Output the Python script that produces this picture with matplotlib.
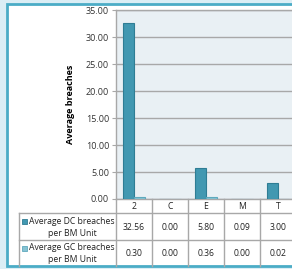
import matplotlib
matplotlib.use("Agg")
import matplotlib.pyplot as plt
import numpy as np
from matplotlib.patches import Rectangle
from matplotlib.transforms import blended_transform_factory

# ---------------- DATA ----------------
categories = ["2", "C", "E", "M", "T"]
dc_breaches = [32.56, 0.00, 5.80, 0.09, 3.00]
gc_breaches = [0.30, 0.00, 0.36, 0.00, 0.02]
series_names = ["Average DC breaches\nper BM Unit", "Average GC breaches\nper BM Unit"]
y_ticks = [0, 5, 10, 15, 20, 25, 30, 35]

# ---------------- STYLE ----------------
W, H = 292, 269
DC_COLOR = "#4298b1"
DC_EDGE = "#2f7d94"
GC_COLOR = "#86c3d3"
GC_EDGE = "#5fa9bd"
GRID = "#a8a8a8"
FONT = "Open Sans"
plt.rcParams["font.family"] = [FONT, "DejaVu Sans"]


def fx(px):
    return px / W


def fy(px):
    return 1 - px / H


fig = plt.figure(figsize=(W / 100, H / 100), dpi=100)
fig.patch.set_facecolor("#dbeef5")

# white panel with blue border (behind everything)
fig.patches.append(Rectangle((fx(7), fy(266)), fx(300), fy(4) - fy(266),
                             transform=fig.transFigure, facecolor="white",
                             edgecolor="#4bacc6", linewidth=2, zorder=-5))

# plot area: left 116px, top 10px, bottom 199px, 36px per category
n = len(categories)
ax = fig.add_axes([fx(116), fy(199), fx(36 * n), fy(10) - fy(199)])
ax.set_facecolor("#e9f0f4")

x = np.arange(n)
bw = 0.31
ax.bar(x - bw / 2, dc_breaches, bw, color=DC_COLOR, edgecolor=DC_EDGE,
       linewidth=0.8, zorder=3)
ax.bar(x + bw / 2, gc_breaches, bw, color=GC_COLOR, edgecolor=GC_EDGE,
       linewidth=0.8, zorder=3)

ax.set_xlim(-0.5, n - 0.5)
ax.set_ylim(0, 35)
ax.set_yticks(y_ticks)
ax.set_yticklabels([f"{v:.2f}" for v in y_ticks], fontsize=6.5, color="#333333")
ax.set_xticks([])
ax.yaxis.grid(True, color=GRID, linewidth=1, zorder=0)
ax.set_axisbelow(True)
ax.tick_params(axis="y", length=3, color=GRID, pad=2)
for s in ax.spines.values():
    s.set_color(GRID)
    s.set_linewidth(1)
ax.set_ylabel("Average breaches", fontsize=6.5, fontweight="bold", labelpad=8)

# ---------------- DATA TABLE ----------------
tr = blended_transform_factory(ax.transData, fig.transFigure)
line_kw = dict(color=GRID, linewidth=1, clip_on=False, zorder=5)

# row lines
for ypx in [213, 240]:
    fig.add_artist(plt.Line2D([fx(19), fx(300)], [fy(ypx), fy(ypx)],
                              transform=fig.transFigure, **line_kw))
# vertical lines
for i in range(n + 1):
    ax.plot([i - 0.5, i - 0.5], [fy(199), fy(266)], transform=tr, **line_kw)
fig.add_artist(plt.Line2D([fx(19), fx(19)], [fy(213), fy(266)],
                          transform=fig.transFigure, **line_kw))

tkw = dict(fontsize=6.2, color="#222222", ha="center", va="center")
for i, c in enumerate(categories):
    ax.text(i, fy(206.5), c, transform=tr, **tkw)
    ax.text(i, fy(227), f"{dc_breaches[i]:.2f}", transform=tr, **tkw)
    ax.text(i, fy(253), f"{gc_breaches[i]:.2f}", transform=tr, **tkw)

# row labels with legend keys
for (top, name, col, edge) in [(213, series_names[0], DC_COLOR, DC_EDGE),
                                (240, series_names[1], GC_COLOR, GC_EDGE)]:
    first, second = name.split("\n")
    fig.patches.append(Rectangle((fx(21.5), fy(top + 11)), fx(5.5), fy(0) - fy(5.5),
                                 transform=fig.transFigure, facecolor=col,
                                 edgecolor=edge, linewidth=0.6, zorder=5))
    fig.text(fx(29), fy(top + 8), first, fontsize=6.2, color="#222222",
             ha="left", va="center")
    fig.text(fx(72), fy(top + 20), second, fontsize=6.2, color="#222222",
             ha="center", va="center")

fig.savefig("out.png", dpi=100, facecolor=fig.get_facecolor())
